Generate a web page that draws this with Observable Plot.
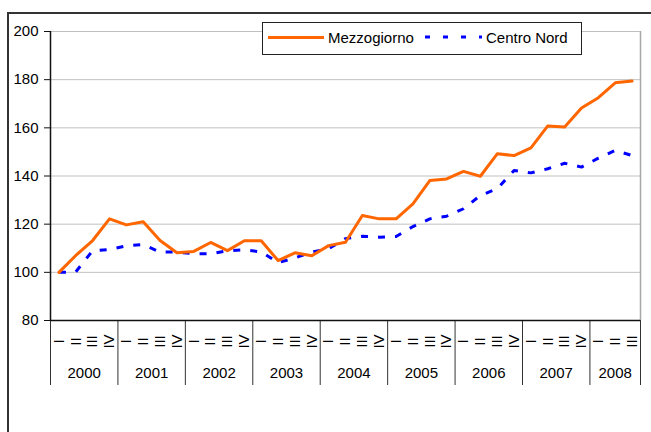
<!DOCTYPE html>
<html>
<head>
<meta charset="utf-8">
<script src="https://cdn.jsdelivr.net/npm/d3@7"></script>
<script src="https://cdn.jsdelivr.net/npm/@observablehq/plot@0.6"></script>
<style>
  html, body { margin: 0; padding: 0; background: #fff; }
  #wrap { position: relative; width: 651px; height: 432px; overflow: hidden; font-family: "Liberation Sans", Arial, sans-serif; }
  #frame { position: absolute; left: 7px; top: 12px; width: 700px; height: 500px; border-top: 2px solid #333; border-left: 2px solid #333; }
  #chart { position: absolute; left: 0; top: 0; }
  #legend { position: absolute; left: 262px; top: 22px; width: 318px; height: 31px; border: 1px solid #222; background: #fff; font-size: 15px; color: #000; }
  .item { position: absolute; top: 6px; white-space: nowrap; }
  .sw { position: absolute; top: 13px; height: 0; }
</style>
</head>
<body>
<div id="wrap">
  <div id="frame"></div>
  <div id="chart"></div>
  <div id="legend"></div>
</div>
<script>
const quarters = ["I", "II", "III", "IV"];
const years = ["2000", "2001", "2002", "2003", "2004", "2005", "2006", "2007", "2008"];
const seriesNames = ["Mezzogiorno", "Centro Nord"];
const mezzogiorno = [100, 107, 113.2, 122.2, 119.7, 121, 113.2, 108.1, 108.7, 112.4, 109, 113.1,
  113.1, 104.9, 108.1, 106.9, 111.1, 112.5, 123.6, 122.2, 122.2, 128.4, 138.1, 138.8,
  141.9, 139.9, 149.2, 148.5, 151.7, 160.8, 160.3, 168.2, 172.5, 178.7, 179.4];
const centroNord = [100, 100.2, 109, 109.5, 111, 111.5, 108.4, 108.4, 107.7, 107.7, 109, 109.3,
  108.5, 104, 106, 108.4, 109.8, 114, 115, 114.6, 114.9, 119, 122.2, 123.3,
  126.4, 131.9, 134.7, 142.3, 141.3, 143, 145.3, 143.7, 147.4, 150.6, 148.5];
const yTicks = [80, 100, 120, 140, 160, 180, 200];

const colors = ["#ff6600", "#0000ff"];
const n = mezzogiorno.length;
const rows = d3.range(n).map(i => ({i, q: quarters[i % 4], m: mezzogiorno[i], c: centroNord[i]}));
const yearRows = years.map((y, k) => ({year: y, cx: (4 * k + Math.min(4 * k + 4, n)) / 2}));
const seps = years.map((y, k) => 4 * k).concat([n]);

const chart = Plot.plot({
  width: 651, height: 432,
  marginLeft: 50, marginRight: 11, marginTop: 31, marginBottom: 47,
  style: {fontFamily: "'Liberation Sans', Arial, sans-serif", fontSize: "15px", background: "transparent", overflow: "visible", color: "#000"},
  x: {type: "linear", domain: [0, n], range: [50, 640], axis: null},
  y: {domain: [80, 200], range: [320, 31], axis: null},
  marks: [
    Plot.ruleY(yTicks.slice(1), {x1: 0, x2: n, stroke: "#c0c0c0", strokeWidth: 1}),
    Plot.ruleX([n], {y1: 80, y2: 200, stroke: "#a8a8a8", strokeWidth: 1.5}),
    Plot.ruleX(seps, {y1: 80, y2: 80, insetBottom: -65, stroke: "#333", strokeWidth: 1}),
    Plot.ruleX([0], {y1: 80, y2: 200, stroke: "#111", strokeWidth: 1.5}),
    Plot.ruleY([80], {x1: 0, x2: n, stroke: "#111", strokeWidth: 1.5}),
    Plot.axisY({ticks: yTicks, tickSize: 6, tickPadding: 6, fontSize: 15, tickFormat: d => String(d), label: null, stroke: "#111"}),
    Plot.line(rows, {x: d => d.i + 0.5, y: "c", stroke: colors[1], strokeWidth: 3, strokeDasharray: "7,10", strokeLinecap: "butt"}),
    Plot.line(rows, {x: d => d.i + 0.5, y: "m", stroke: colors[0], strokeWidth: 3, strokeLinejoin: "round"}),
    Plot.text(rows, {x: d => d.i + 0.5, y: 80, text: "q", rotate: -90, dy: 21, fontSize: 15, fill: "#000"}),
    Plot.text(yearRows, {x: "cx", y: 80, text: "year", dy: 53, fontSize: 15, fill: "#000"})
  ]
});
document.getElementById("chart").appendChild(chart);

const lg = document.getElementById("legend");
lg.innerHTML =
  `<div class="sw" style="left:5px;width:56px;border-top:3px solid ${colors[0]}"></div>` +
  `<div class="item" style="left:65px">${seriesNames[0]}</div>` +
  `<svg style="position:absolute;left:161px;top:9px" width="58" height="10"><line x1="1" y1="5" x2="58" y2="5" stroke="${colors[1]}" stroke-width="3" stroke-dasharray="5,13"/></svg>` +
  `<div class="item" style="left:223px">${seriesNames[1]}</div>`;
</script>
</body>
</html>
